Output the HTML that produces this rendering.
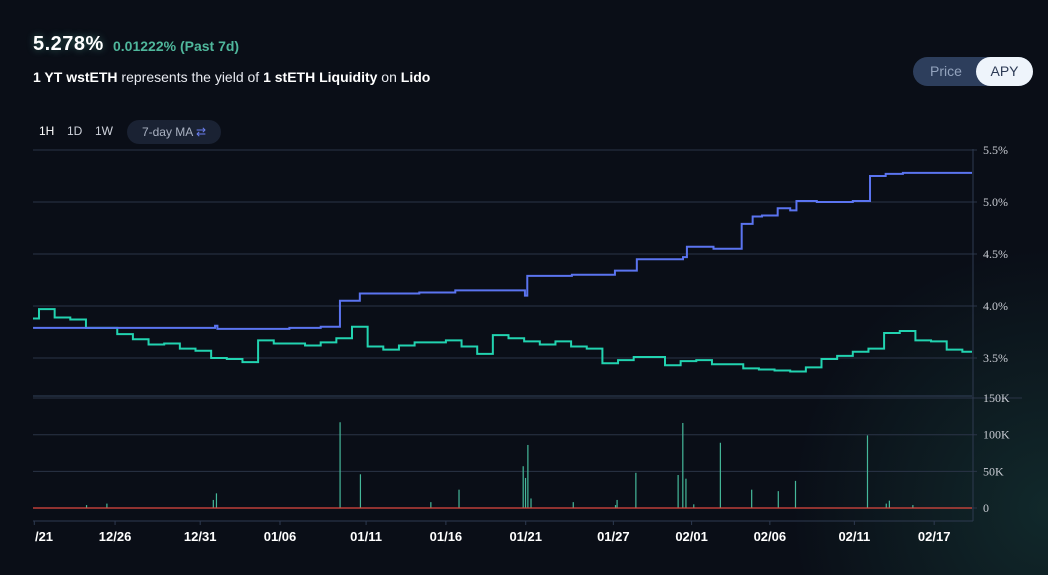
<!DOCTYPE html>
<html><head><meta charset="utf-8">
<style>
html,body{margin:0;padding:0;background:#0a0e17;width:1048px;height:575px;overflow:hidden;font-family:"Liberation Sans",sans-serif;color:#fff}
.glow{position:absolute;right:0;bottom:0;width:260px;height:330px;background:radial-gradient(ellipse at 100% 80%,rgba(30,90,80,0.35),rgba(10,14,23,0) 70%)}
.big{position:absolute;left:33px;top:33px;font-size:20px;font-weight:bold;letter-spacing:0.5px;text-shadow:0 0 8px rgba(120,255,220,0.35)}
.chg{position:absolute;left:113px;top:38px;font-size:14px;color:#4fb79c;font-weight:bold}
.desc{position:absolute;left:33px;top:69px;font-size:14px;color:#e8eaf0}
.desc b{color:#fff}
.toggle{position:absolute;left:913px;top:57px;width:120px;height:29px;border-radius:15px;background:#2d3e5c}
.toggle span{position:absolute;top:0;height:29px;line-height:29px;font-size:14px}
.tf{position:absolute;top:124px;font-size:12px;color:#cfd3dc}
.ma{position:absolute;left:127px;top:120px;width:94px;height:24px;border-radius:12px;background:#1a2233;color:#aab2c2;font-size:12px;line-height:24px;text-align:center}
</style></head><body>
<div class="glow"></div>
<div class="big">5.278%</div>
<div class="chg">0.01222% (Past 7d)</div>
<div class="desc"><b>1 YT wstETH</b> represents the yield of <b>1 stETH Liquidity</b> on <b>Lido</b></div>
<div class="toggle">
 <span style="left:17px;color:#93a3bd">Price</span>
 <span style="left:63px;width:57px;background:#eef4fb;border-radius:15px;color:#2c3a55;text-align:center">APY</span>
</div>
<div class="tf" style="left:39px;color:#fff">1H</div>
<div class="tf" style="left:67px">1D</div>
<div class="tf" style="left:95px">1W</div>
<div class="ma">7-day MA <span style="color:#6b7ff0">⇄</span></div>
<svg id="chart" width="1048" height="575" style="position:absolute;left:0;top:0"></svg>
<script>
// teal series: daily values for day -1..59
const dailyValues=[3.88,3.97,3.89,3.87,3.79,3.79,3.73,3.68,3.63,3.64,3.59,3.57,3.50,3.49,3.46,3.67,3.64,3.64,3.62,3.65,3.69,3.80,3.61,3.58,3.62,3.65,3.65,3.67,3.61,3.54,3.72,3.69,3.66,3.63,3.66,3.61,3.59,3.45,3.48,3.51,3.51,3.43,3.47,3.48,3.44,3.44,3.40,3.39,3.38,3.37,3.41,3.49,3.52,3.56,3.59,3.74,3.76,3.67,3.66,3.58,3.56];
// blue series: step change days and values
const stepDays=[-0.38,11.25,11.4,16.0,18.0,19.23,20.5,24.3,26.6,31.05,31.2,34.05,36.8,38.2,41.15,41.4,43.1,44.9,45.6,46.2,47.2,48.0,48.4,49.7,52.0,53.1,54.1,55.2];
const stepValues=[3.79,3.81,3.78,3.79,3.80,4.05,4.12,4.13,4.15,4.10,4.29,4.30,4.34,4.45,4.47,4.57,4.55,4.79,4.86,4.87,4.94,4.92,5.01,5.00,5.01,5.25,5.27,5.28];
// volume bars
const volDays=[3.0,4.3,11.1,11.3,19.2,20.5,25.0,26.8,30.9,31.05,31.2,31.4,34.1,36.8,36.9,38.1,40.8,41.1,41.3,41.8,43.5,45.5,47.2,48.3,52.9,54.1,54.3,55.8];
const volValues=[4,6,11,20,117,46,8,25,57,41,86,13,8,4,11,48,45,116,40,5,89,25,23,37,99,6,10,4];
const apyTicks=["3.5%","4.0%","4.5%","5.0%","5.5%"];
const apyTickVals=[3.5,4.0,4.5,5.0,5.5];
const volTicks=["0","50K","100K","150K"];
const volTickVals=[0,50,100,150];
const dateLabels=["/21","12/26","12/31","01/06","01/11","01/16","01/21","01/27","02/01","02/06","02/11","02/17"];
const dateDays=[-0.3,4.86,10.3,15.4,20.9,26.0,31.1,36.7,41.7,46.7,52.1,57.2];

const svg=document.getElementById('chart');
const NS='http://www.w3.org/2000/svg';
const X0=33,X1=972;
const xs=t=>39+15.65*t;
const ys=v=>358-(v-3.5)*104;
const yv=v=>508-v*0.733;
function mk(tag,attrs){const e=document.createElementNS(NS,tag);for(const k in attrs)e.setAttribute(k,attrs[k]);svg.appendChild(e);return e;}

apyTickVals.forEach((v,i)=>{
 const g=mk('line',{x1:X0,x2:X1+5,y1:ys(v),y2:ys(v),stroke:'#2a3447','stroke-width':1});
 
 
 const t=mk('text',{x:983,y:ys(v)+4,fill:'#c9ccd3','font-size':12,'font-family':'Liberation Serif, serif'});
 t.textContent=apyTicks[i];
 
 
});
volTickVals.forEach((v,i)=>{
 const g=mk('line',{x1:X0,x2:X1+(v==150?50:5),y1:yv(v),y2:yv(v),stroke:'#2a3447','stroke-width':1});
 
 
 const t=mk('text',{x:983,y:yv(v)+4,fill:'#c9ccd3','font-size':12,'font-family':'Liberation Serif, serif'});
 t.textContent=volTicks[i];
 
 
});
const sep=mk('line',{x1:X0,x2:X1,y1:396,y2:396,stroke:'#33415a','stroke-width':1});


const ax=mk('line',{x1:X1+1,x2:X1+1,y1:149,y2:521,stroke:'#2e3a50','stroke-width':1});


const xa=mk('line',{x1:X0,x2:X1+1,y1:521,y2:521,stroke:'#2e3a50','stroke-width':1});



dateLabels.forEach((l,i)=>{
 const x=xs(dateDays[i]);
 const tk=mk('line',{x1:x,x2:x,y1:521,y2:525,stroke:'#2e3a50'});
 
 
 const t=mk('text',{x:Math.max(x,44),y:541,fill:'#fff','font-size':13,'font-weight':'bold','text-anchor':'middle'});
 t.textContent=l;
 
 
});

// volume bars
volDays.forEach((d,i)=>{
 const b=mk('rect',{x:xs(d),y:yv(volValues[i]),width:1.2,height:508-yv(volValues[i]),fill:'#45b89a'});
 
 
});
const base=mk('line',{x1:X0,x2:X1,y1:508,y2:508,stroke:'#e0483f','stroke-width':1.3});



// teal
let p='';
dailyValues.forEach((v,i)=>{
 const k=i-1;
 const xa=Math.max(X0,xs(k)),xb=Math.min(X1,xs(k+1));
 p+=(i==0?'M':'L')+xa+','+ys(v)+'L'+xb+','+ys(v);
});
const teal=mk('path',{d:p,fill:'none',stroke:'#22d3b0','stroke-width':2});



// blue
let q='';
stepDays.forEach((d,i)=>{
 const xa=Math.max(X0,xs(d));
 const xb=i<stepDays.length-1?xs(stepDays[i+1]):X1;
 q+=(i==0?'M':'L')+xa+','+ys(stepValues[i])+'L'+xb+','+ys(stepValues[i]);
});
const blue=mk('path',{d:q,fill:'none',stroke:'#5b74f0','stroke-width':2});


</script>
</body></html>
